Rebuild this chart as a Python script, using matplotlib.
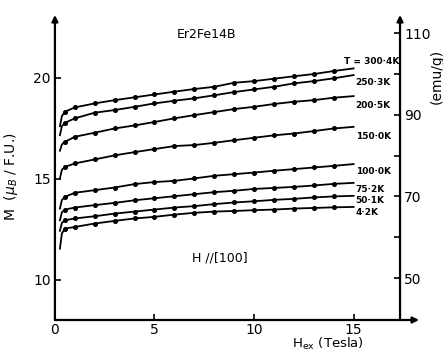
import matplotlib
matplotlib.use("Agg")
from matplotlib import pyplot as plt

# field values (Tesla); markers from 0.5 T to 14 T
H = [0.25, 0.35, 0.5, 1, 2, 3, 4, 5, 6, 7, 8, 9, 10, 11, 12, 13, 14, 15]

# magnetisation (mu_B / f.u.) per temperature
M_300_4 = [17.60, 18.10, 18.32, 18.53, 18.73, 18.89, 19.03, 19.17, 19.31, 19.44, 19.55, 19.75, 19.83, 19.95, 20.07, 20.18, 20.33, 20.46]
M_250_3 = [17.16, 17.60, 17.77, 17.99, 18.27, 18.40, 18.56, 18.73, 18.86, 18.98, 19.13, 19.29, 19.42, 19.55, 19.72, 19.83, 19.97, 20.13]
M_200_5 = [16.39, 16.70, 16.83, 17.08, 17.28, 17.49, 17.64, 17.81, 17.99, 18.15, 18.30, 18.45, 18.56, 18.70, 18.81, 18.89, 19.01, 19.09]
M_150_0 = [15.02, 15.45, 15.59, 15.76, 15.96, 16.16, 16.32, 16.47, 16.62, 16.67, 16.78, 16.91, 17.03, 17.15, 17.24, 17.36, 17.49, 17.57]
M_100_0 = [13.53, 13.95, 14.11, 14.31, 14.44, 14.57, 14.74, 14.84, 14.90, 15.02, 15.15, 15.23, 15.31, 15.40, 15.48, 15.56, 15.64, 15.73]
M_75_2 = [12.95, 13.35, 13.48, 13.58, 13.70, 13.81, 13.94, 14.04, 14.14, 14.24, 14.34, 14.41, 14.50, 14.55, 14.60, 14.67, 14.75, 14.80]
M_50_1 = [12.43, 12.82, 12.95, 13.04, 13.15, 13.28, 13.38, 13.48, 13.58, 13.65, 13.75, 13.83, 13.89, 13.96, 14.01, 14.08, 14.13, 14.16]
M_4_2 = [11.55, 12.30, 12.54, 12.62, 12.79, 12.92, 13.04, 13.12, 13.23, 13.32, 13.38, 13.41, 13.45, 13.48, 13.53, 13.56, 13.59, 13.61]

series = [M_300_4, M_250_3, M_200_5, M_150_0, M_100_0, M_75_2, M_50_1, M_4_2]
temp_labels = ["T = 300·4K", "250·3K", "200·5K", "150·0K", "100·0K", "75·2K", "50·1K", "4·2K"]

EMU_PER_MU = 4.955  # 5585 / molar mass of Er2Fe14B

fig = plt.figure(figsize=(4.43, 3.53), dpi=100)
ax = fig.add_axes([0.124, 0.0935, 0.779, 0.864])
ax.set_xlim(0, 17.33)
ax.set_ylim(8.02, 23.1)

for M in series:
    ax.plot(H, M, color="black", lw=1.3, marker="o", ms=2.6,
            markevery=list(range(2, len(H) - 1)))

# label offsets from the curve end (layout only)
lab_x = [14.5, 15.1, 15.1, 15.1, 15.1, 15.1, 15.1, 15.1]
lab_dy = [0.32, -0.39, -0.45, -0.46, -0.35, -0.31, -0.22, -0.26]
for M, txt, lx, dy in zip(series, temp_labels, lab_x, lab_dy):
    ax.text(lx, M[-1] + dy, txt, fontsize=6.5, fontweight="bold",
            ha="left", va="center")

ax.text(7.6, 22.16, "Er2Fe14B", fontsize=9, ha="center", va="center")
ax.text(8.3, 11.07, "H //[100]", fontsize=9, ha="center", va="center")

# axes drawn as arrows
for s in ax.spines.values():
    s.set_visible(False)
arrow = dict(arrowstyle="-|>", color="black", lw=1.6, fill=False,
             mutation_scale=9, shrinkA=0, shrinkB=0)
ax.annotate("", xy=(0, 1.0), xytext=(0, 0), xycoords="axes fraction",
            arrowprops=arrow, annotation_clip=False)
ax.annotate("", xy=(1, 1.0), xytext=(1, 0), xycoords="axes fraction",
            arrowprops=arrow, annotation_clip=False)
ax.annotate("", xy=(1.055, 0), xytext=(0, 0), xycoords="axes fraction",
            arrowprops=arrow, annotation_clip=False)

ax.set_xticks([0, 5, 10, 15])
ax.set_yticks([10, 15, 20])
ax.tick_params(direction="in", length=4, width=1.2, labelsize=10, pad=3)
ax.tick_params(axis="x", pad=2)

ax.set_ylabel(r"M  ($\mu_B$ / F.U.)", fontsize=10)
ax.yaxis.set_label_coords(-0.10, 0.47)
fig.text(0.74, 0.003, r"H$_{\mathrm{ex}}$ (Tesla)", fontsize=9.5,
         ha="center", va="bottom")

sec = ax.secondary_yaxis("right", functions=(lambda m: m * EMU_PER_MU,
                                             lambda e: e / EMU_PER_MU))
sec.spines["right"].set_visible(False)
sec.set_yticks([50, 70, 90, 110])
sec.set_yticks([60, 80, 100], minor=True)
sec.tick_params(which="both", direction="in", length=4, width=1.2,
                labelsize=10, pad=3)
ax.text(1.105, 0.80, "(emu/g)", transform=ax.transAxes, rotation=90,
        fontsize=10, ha="center", va="center")

fig.savefig("out.png", dpi=100)
